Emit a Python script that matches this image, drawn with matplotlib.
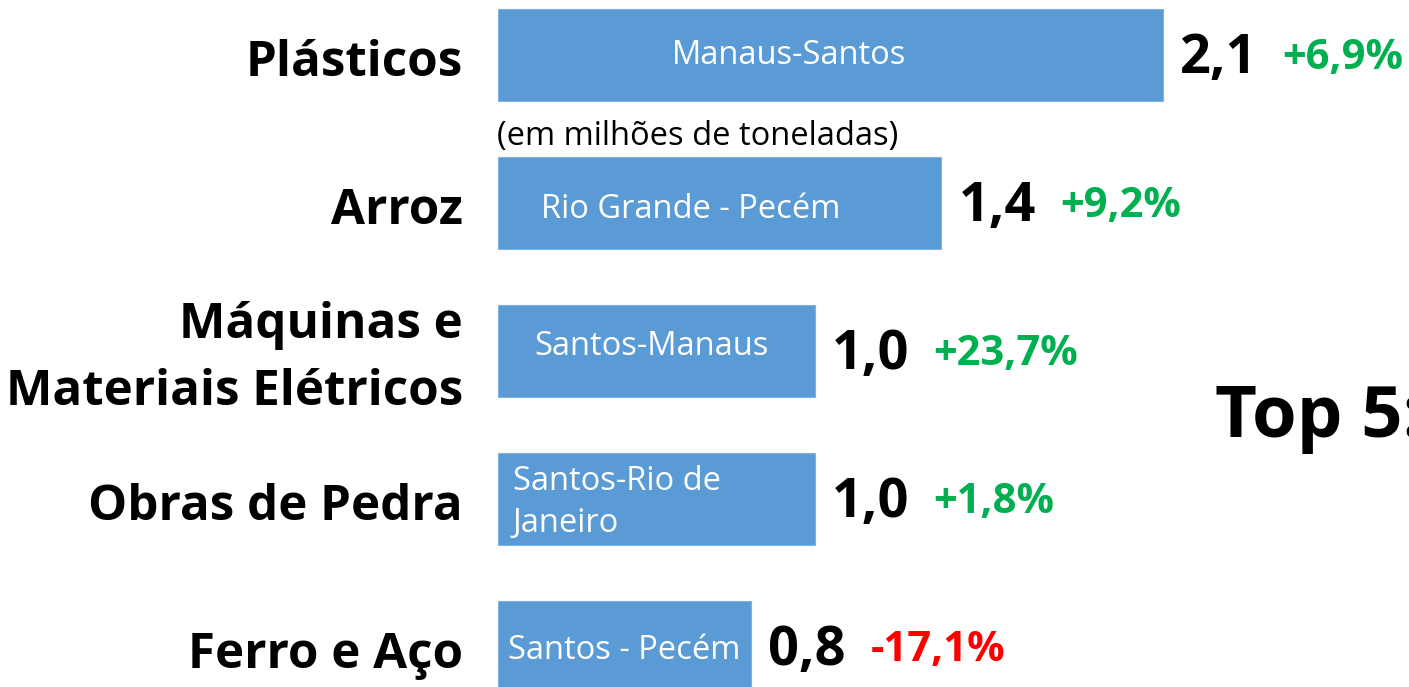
import matplotlib.pyplot as plt

# Top 5 cargas na cabotagem (milhões de toneladas)
categorias = ["Plásticos", "Arroz", "Máquinas e\nMateriais Elétricos", "Obras de Pedra", "Ferro e Aço"]
valores = [2.1, 1.4, 1.0, 1.0, 0.8]
variacao = [6.9, 9.2, 23.7, 1.8, -17.1]
rotas = ["Manaus-Santos", "Rio Grande - Pecém", "Santos-Manaus", "Santos-Rio de\nJaneiro", "Santos - Pecém"]

# posição do texto da rota dentro de cada barra (pixels a partir do início da barra)
rota_dx = [174, 43, 36, 15, 10]
rota_dy = [0, -6, 5, -3, -3]

AZUL = "#5B9BD5"
VERDE = "#00B050"
VERMELHO = "#FF0000"
FONTE = "Open Sans"

W, H = 1409, 687
fig = plt.figure(figsize=(W / 100, H / 100), dpi=100)
fig.patch.set_facecolor("white")

px_por_unidade = 316.7
x0 = 498
ax = fig.add_axes([x0 / W, 0, (W - x0) / W, 1])
ax.set_xlim(0, (W - x0) / px_por_unidade)
passo = 148
ax.set_ylim(4 + (H - 647) / passo, -55.5 / passo)
ax.axis("off")

pos = list(range(len(categorias)))
ax.barh(pos, valores, height=92 / passo, color=AZUL, edgecolor="#7FB2E0", linewidth=0.8)

for i, (cat, v, var, rota) in enumerate(zip(categorias, valores, variacao, rotas)):
    # nome da categoria à esquerda
    ax.annotate(cat, (0, i), xytext=(-35, -8), textcoords="offset pixels",
                ha="right", va="center", fontsize=35.5, fontweight="bold",
                family=FONTE, color="black", annotation_clip=False, linespacing=1.5)
    # rota dentro da barra
    ax.annotate(rota, (0, i), xytext=(rota_dx[i], rota_dy[i]), textcoords="offset pixels",
                ha="left", va="center", fontsize=23.5, family=FONTE,
                color="white", linespacing=1.35)
    # valor
    ax.annotate(f"{v:.1f}".replace(".", ","), (v, i), xytext=(17, -4), textcoords="offset pixels",
                ha="left", va="center", fontsize=39, fontweight="bold",
                family=FONTE, color="black", annotation_clip=False)
    # variação anual
    sinal = "+" if var >= 0 else ""
    ax.annotate(f"{sinal}{var:.1f}%".replace(".", ","), (v, i), xytext=(119, -3),
                textcoords="offset pixels", ha="left", va="center", fontsize=30,
                fontweight="bold", family=FONTE,
                color=VERDE if var >= 0 else VERMELHO, annotation_clip=False)

fig.text(497 / W, 1 - 136 / H, "(em milhões de toneladas)", ha="left", va="center",
         fontsize=23.5, family=FONTE, color="black")
fig.text(1215 / W, 1 - 418 / H, "Top 5:", ha="left", va="center",
         fontsize=52, fontweight="bold", family=FONTE, color="black")

fig.savefig("out.png", dpi=100)
